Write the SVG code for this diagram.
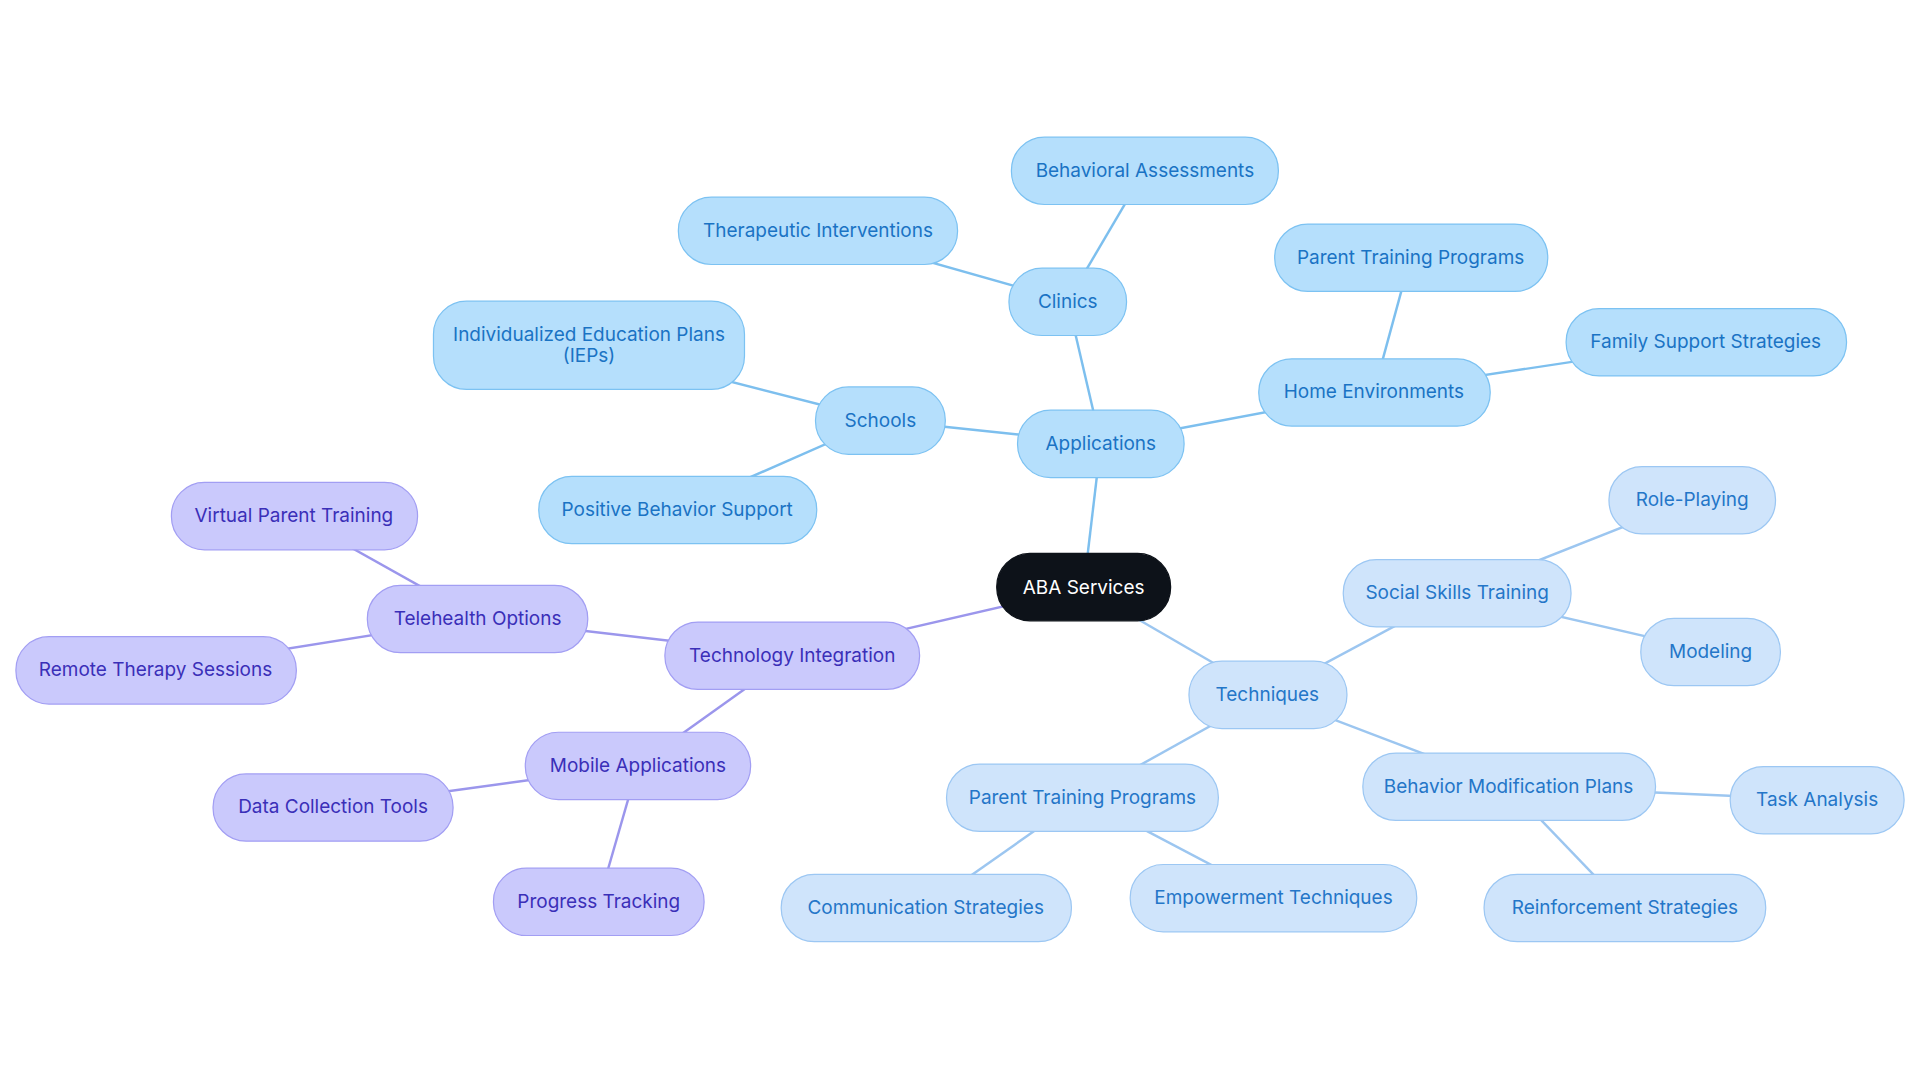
<svg xmlns="http://www.w3.org/2000/svg" width="1920" height="1083" viewBox="0 0 1920 1083">
<style>
text{font-family:Inter,"Open Sans","Liberation Sans",sans-serif;font-size:15.5px;text-anchor:middle;dominant-baseline:central}
.a rect{fill:#b5dffc;stroke:#7cc2f2;stroke-width:1}
.a text{fill:#1a73c4}
.t rect{fill:#cfe4fb;stroke:#9cc7f3;stroke-width:1}
.t text{fill:#2476c8}
.p rect{fill:#cac9fc;stroke:#a29ef3;stroke-width:1}
.p text{fill:#3a2fb8}
.la{stroke:#7dbfee;stroke-width:2;fill:none}
.lt{stroke:#9cc6f0;stroke-width:2;fill:none}
.lp{stroke:#9b96ec;stroke-width:2;fill:none}
</style>
<rect width="1920" height="1083" fill="#fff"/>
<g transform="scale(1.22449)">
<g id="connectors">
<line class="la" x1="885" y1="480" x2="899" y2="362"/>
<line class="la" x1="899" y1="362" x2="872" y2="246"/>
<line class="la" x1="872" y1="246" x2="935" y2="139"/>
<line class="la" x1="872" y1="246" x2="668" y2="188"/>
<line class="la" x1="899" y1="362" x2="1122" y2="320"/>
<line class="la" x1="1122" y1="320" x2="1152" y2="210"/>
<line class="la" x1="1122" y1="320" x2="1393" y2="279"/>
<line class="la" x1="899" y1="362" x2="719" y2="343"/>
<line class="la" x1="719" y1="343" x2="481" y2="282"/>
<line class="la" x1="719" y1="343" x2="553" y2="416"/>
<line class="lt" x1="885" y1="480" x2="1035" y2="567"/>
<line class="lt" x1="1035" y1="567" x2="1190" y2="484"/>
<line class="lt" x1="1190" y1="484" x2="1382" y2="408"/>
<line class="lt" x1="1190" y1="484" x2="1397" y2="532"/>
<line class="lt" x1="1035" y1="567" x2="1232" y2="642"/>
<line class="lt" x1="1232" y1="642" x2="1484" y2="653"/>
<line class="lt" x1="1232" y1="642" x2="1327" y2="741"/>
<line class="lt" x1="1035" y1="567" x2="884" y2="651"/>
<line class="lt" x1="884" y1="651" x2="756" y2="741"/>
<line class="lt" x1="884" y1="651" x2="1040" y2="733"/>
<line class="lp" x1="885" y1="480" x2="647" y2="535"/>
<line class="lp" x1="647" y1="535" x2="390" y2="505"/>
<line class="lp" x1="390" y1="505" x2="240" y2="421"/>
<line class="lp" x1="390" y1="505" x2="127" y2="547"/>
<line class="lp" x1="647" y1="535" x2="521" y2="625"/>
<line class="lp" x1="521" y1="625" x2="272" y2="659"/>
<line class="lp" x1="521" y1="625" x2="489" y2="736"/>
</g>
<g id="root"><rect x="814" y="452" width="142" height="55" rx="27" fill="#0d1219" stroke="#0d1219"/><text x="885" y="480" fill="#fff">ABA Services</text></g>
<g id="applications" class="a"><rect x="831" y="335" width="136" height="55" rx="27"/><text x="899" y="362">Applications</text></g>
<g id="clinics" class="a"><rect x="824" y="219" width="96" height="55" rx="27"/><text x="872" y="246">Clinics</text></g>
<g id="behavioral-assessments" class="a"><rect x="826" y="112" width="218" height="55" rx="27"/><text x="935" y="139">Behavioral Assessments</text></g>
<g id="therapeutic-interventions" class="a"><rect x="554" y="161" width="228" height="55" rx="27"/><text x="668" y="188">Therapeutic Interventions</text></g>
<g id="home-environments" class="a"><rect x="1028" y="293" width="189" height="55" rx="27"/><text x="1122" y="320">Home Environments</text></g>
<g id="parent-training-top" class="a"><rect x="1041" y="183" width="223" height="55" rx="27"/><text x="1152" y="210">Parent Training Programs</text></g>
<g id="family-support" class="a"><rect x="1279" y="252" width="229" height="55" rx="27"/><text x="1393" y="279">Family Support Strategies</text></g>
<g id="schools" class="a"><rect x="666" y="316" width="106" height="55" rx="27"/><text x="719" y="343">Schools</text></g>
<g id="ieps" class="a"><rect x="354" y="246" width="254" height="72" rx="27"/><text x="481" y="273">Individualized Education Plans</text><text x="481" y="290">(IEPs)</text></g>
<g id="pbs" class="a"><rect x="440" y="389" width="227" height="55" rx="27"/><text x="553" y="416">Positive Behavior Support</text></g>
<g id="techniques" class="t"><rect x="971" y="540" width="129" height="55" rx="27"/><text x="1035" y="567">Techniques</text></g>
<g id="social-skills" class="t"><rect x="1097" y="457" width="186" height="55" rx="27"/><text x="1190" y="484">Social Skills Training</text></g>
<g id="role-playing" class="t"><rect x="1314" y="381" width="136" height="55" rx="27"/><text x="1382" y="408">Role-Playing</text></g>
<g id="modeling" class="t"><rect x="1340" y="505" width="114" height="55" rx="27"/><text x="1397" y="532">Modeling</text></g>
<g id="bmp" class="t"><rect x="1113" y="615" width="239" height="55" rx="27"/><text x="1232" y="642">Behavior Modification Plans</text></g>
<g id="task-analysis" class="t"><rect x="1413" y="626" width="142" height="55" rx="27"/><text x="1484" y="653">Task Analysis</text></g>
<g id="reinforcement" class="t"><rect x="1212" y="714" width="230" height="55" rx="27"/><text x="1327" y="741">Reinforcement Strategies</text></g>
<g id="parent-training-bottom" class="t"><rect x="773" y="624" width="222" height="55" rx="27"/><text x="884" y="651">Parent Training Programs</text></g>
<g id="communication" class="t"><rect x="638" y="714" width="237" height="55" rx="27"/><text x="756" y="741">Communication Strategies</text></g>
<g id="empowerment" class="t"><rect x="923" y="706" width="234" height="55" rx="27"/><text x="1040" y="733">Empowerment Techniques</text></g>
<g id="technology" class="p"><rect x="543" y="508" width="208" height="55" rx="27"/><text x="647" y="535">Technology Integration</text></g>
<g id="telehealth" class="p"><rect x="300" y="478" width="180" height="55" rx="27"/><text x="390" y="505">Telehealth Options</text></g>
<g id="virtual-parent" class="p"><rect x="140" y="394" width="201" height="55" rx="27"/><text x="240" y="421">Virtual Parent Training</text></g>
<g id="remote-therapy" class="p"><rect x="13" y="520" width="229" height="55" rx="27"/><text x="127" y="547">Remote Therapy Sessions</text></g>
<g id="mobile" class="p"><rect x="429" y="598" width="184" height="55" rx="27"/><text x="521" y="625">Mobile Applications</text></g>
<g id="data-collection" class="p"><rect x="174" y="632" width="196" height="55" rx="27"/><text x="272" y="659">Data Collection Tools</text></g>
<g id="progress" class="p"><rect x="403" y="709" width="172" height="55" rx="27"/><text x="489" y="736">Progress Tracking</text></g>
</g>
</svg>
